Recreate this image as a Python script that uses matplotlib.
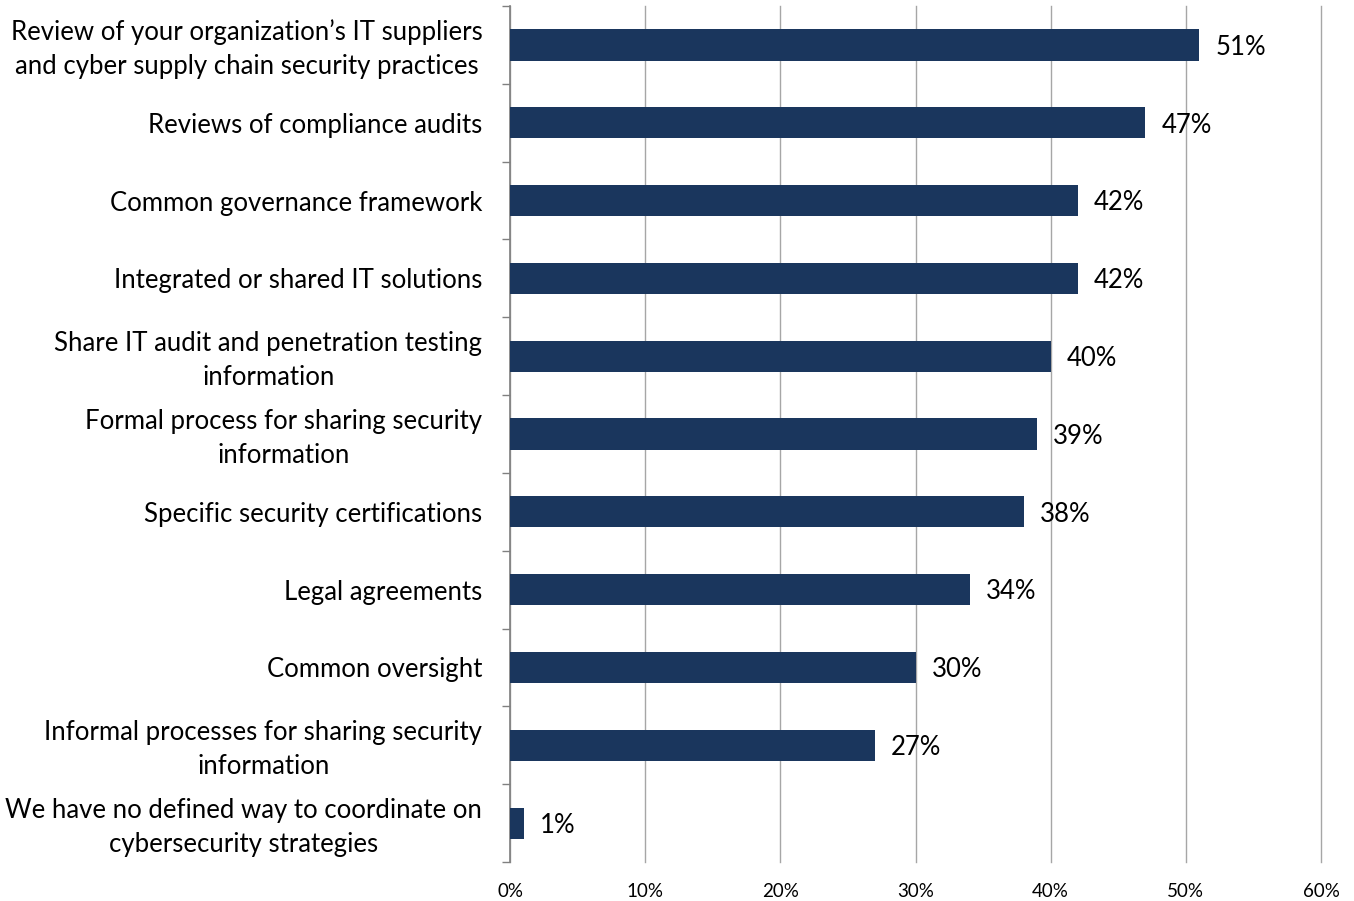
import matplotlib
matplotlib.use("Agg")
import matplotlib.pyplot as plt
from matplotlib.ticker import FuncFormatter
from matplotlib.transforms import ScaledTranslation

categories = [
    "Review of your organization\u2019s IT suppliers\nand cyber supply chain security practices",
    "Reviews of compliance audits",
    "Common governance framework",
    "Integrated or shared IT solutions",
    "Share IT audit and penetration testing\ninformation",
    "Formal process for sharing security\ninformation",
    "Specific security certifications",
    "Legal agreements",
    "Common oversight",
    "Informal processes for sharing security\ninformation",
    "We have no defined way to coordinate on\ncybersecurity strategies",
]
values = [51, 47, 42, 42, 40, 39, 38, 34, 30, 27, 1]
x_ticks = [0, 10, 20, 30, 40, 50, 60]

plt.rcParams["font.family"] = ["Lato", "DejaVu Sans"]

fig = plt.figure(figsize=(13.54, 9.01), dpi=100)
ax = fig.add_axes([0.3767, 0.0433, 0.5989, 0.95])

n = len(categories)
pos = list(range(n))
bar_color = "#1a365d"
ax.barh(pos, values, height=0.4, color=bar_color, zorder=3)

for p, v in zip(pos, values):
    ax.text(v + 1.2, p + 0.03, f"{v}%", va="center", ha="left", fontsize=18.5,
            color="black", zorder=4)

ax.set_ylim(n - 0.5, -0.5)
ax.set_xlim(0, 60)
ax.set_xticks(x_ticks)
ax.xaxis.set_major_formatter(FuncFormatter(lambda x, _: f"{int(x)}%"))
ax.tick_params(axis="x", length=0, labelsize=13.5, pad=15)

# y ticks at category boundaries, labels centered on bars
ax.set_yticks([i - 0.5 for i in range(n + 1)])
ax.set_yticklabels([])
ax.tick_params(axis="y", which="major", length=6, width=1, color="#808080", direction="out")
ax.set_yticks(pos, minor=True)
ax.set_yticklabels(categories, minor=True, fontsize=18.5)
ax.tick_params(axis="y", which="minor", length=0, pad=20)
lift = ScaledTranslation(0, 3 / 100, fig.dpi_scale_trans)
for lbl in ax.get_yticklabels(minor=True):
    lbl.set_multialignment("center")
    lbl.set_linespacing(1.45)
    if "\n" in lbl.get_text():
        lbl.set_transform(lbl.get_transform() + lift)

ax.grid(axis="x", color="#a6a6a6", linewidth=1, zorder=0)
for gl in ax.get_xgridlines():
    gl.set_clip_on(False)
for s in ["top", "right", "bottom"]:
    ax.spines[s].set_visible(False)
ax.spines["left"].set_color("#808080")
ax.spines["left"].set_linewidth(1.2)

fig.savefig("out.png", dpi=100)
